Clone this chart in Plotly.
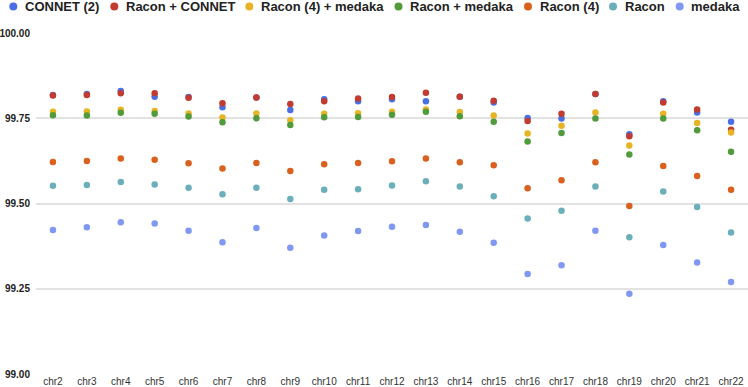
import plotly.graph_objects as go

chromosomes = ["chr2","chr3","chr4","chr5","chr6","chr7","chr8","chr9","chr10","chr11","chr12",
               "chr13","chr14","chr15","chr16","chr17","chr18","chr19","chr20","chr21","chr22"]

connet2 = [99.818,99.821,99.830,99.813,99.812,99.782,99.811,99.774,99.806,99.800,99.806,
           99.800,99.813,99.796,99.751,99.749,99.821,99.703,99.800,99.767,99.740]
racon_connet = [99.817,99.818,99.823,99.823,99.810,99.794,99.811,99.792,99.800,99.808,99.812,
                99.825,99.813,99.801,99.742,99.763,99.821,99.697,99.796,99.776,99.716]
racon4_medaka = [99.769,99.770,99.775,99.771,99.764,99.752,99.764,99.744,99.763,99.765,99.769,
                 99.776,99.768,99.758,99.705,99.728,99.767,99.670,99.763,99.736,99.708]
racon_medaka = [99.759,99.758,99.766,99.763,99.755,99.738,99.750,99.730,99.753,99.754,99.760,
                99.769,99.756,99.740,99.682,99.707,99.749,99.644,99.749,99.715,99.652]
racon4 = [99.622,99.625,99.632,99.628,99.618,99.603,99.619,99.595,99.615,99.619,99.624,
          99.632,99.621,99.612,99.545,99.568,99.621,99.493,99.610,99.581,99.540]
racon = [99.552,99.554,99.563,99.556,99.546,99.527,99.546,99.513,99.540,99.542,99.553,
         99.565,99.550,99.521,99.456,99.479,99.550,99.401,99.535,99.490,99.415]
medaka = [99.422,99.430,99.445,99.441,99.420,99.386,99.428,99.370,99.406,99.419,99.432,
          99.437,99.417,99.385,99.293,99.319,99.420,99.235,99.378,99.327,99.270]

series_names = ["CONNET (2)", "Racon + CONNET", "Racon (4) + medaka", "Racon + medaka",
                "Racon (4)", "Racon", "medaka"]
series_values = [connet2, racon_connet, racon4_medaka, racon_medaka, racon4, racon, medaka]
series_colors = ["#4a6fe3", "#c23b30", "#e7b424", "#509b3b", "#d9601d", "#6aafba", "#8098f2"]

y_ticks = [99.0, 99.25, 99.5, 99.75, 100.0]

W, H = 748, 387
ML, MR, MT, MB = 36, 0, 33, 13
PW, PH = W - ML - MR, H - MT - MB

fig = go.Figure()
for name, vals, col in zip(series_names, series_values, series_colors):
    fig.add_trace(go.Scatter(
        x=chromosomes, y=vals, mode="markers", name=name,
        marker=dict(color=col, size=6.5, line=dict(width=0)),
        showlegend=False,
    ))

# custom compact legend (dot + bold label), positioned in pixels
legend_dot_px = [13.3, 114.3, 249.3, 398.5, 528.0, 613.0, 679.7]
legend_y_px = 6.5
shapes = []
annotations = []
for name, col, px in zip(series_names, series_colors, legend_dot_px):
    xa = (px - ML) / PW
    ya = (H - MB - legend_y_px) / PH
    shapes.append(dict(type="circle", xref="paper", yref="paper",
                       xsizemode="pixel", ysizemode="pixel",
                       xanchor=xa, yanchor=ya, x0=-4, x1=4, y0=-4, y1=4,
                       fillcolor=col, line=dict(width=0)))
    annotations.append(dict(text=name, xref="paper", yref="paper",
                            x=(px + 9.5 - ML) / PW, y=ya, xanchor="left", yanchor="middle",
                            showarrow=False,
                            font=dict(family="Liberation Sans, Arial", size=13, color="#222222",
                                      weight="bold")))

fig.update_layout(
    width=W, height=H,
    margin=dict(l=ML, r=MR, t=MT, b=MB, pad=0),
    paper_bgcolor="white", plot_bgcolor="white",
    showlegend=False,
    shapes=shapes, annotations=annotations,
    font=dict(family="Liberation Sans, Arial", color="#222222"),
    xaxis=dict(type="category", range=[-0.5, len(chromosomes) - 0.5], automargin=False,
               showgrid=False, zeroline=False, showline=False, ticks="",
               tickfont=dict(size=10, color="#333333")),
    yaxis=dict(range=[99.0, 100.0], tickvals=y_ticks, tickformat=".2f", automargin=False,
               showgrid=True, gridcolor="#e2e2e2", gridwidth=1.5,
               zeroline=False, showline=False, ticks="", ticklabelstandoff=5,
               tickfont=dict(size=10, color="#222222", weight="bold")),
)

fig.write_html("out.html", config={"displayModeBar": False},
               post_script="document.body.style.margin='0px';")
